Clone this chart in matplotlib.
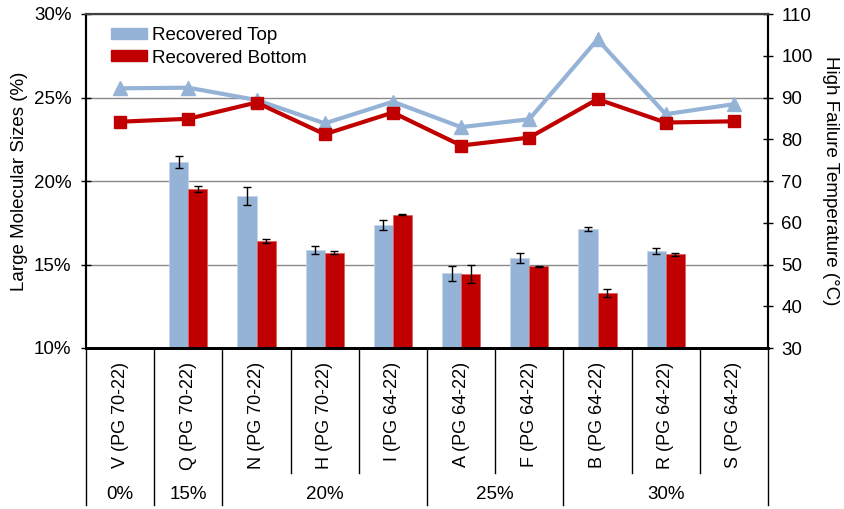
import numpy as np
import matplotlib
matplotlib.use('Agg')
import matplotlib.pyplot as plt
from matplotlib.patches import Patch
from matplotlib.ticker import FuncFormatter

plt.rcParams['font.family'] = ['Liberation Sans', 'DejaVu Sans']
plt.rcParams['font.size'] = 13.5

# binders and RAP content groups
categories = ['V (PG 70-22)', 'Q (PG 70-22)', 'N (PG 70-22)', 'H (PG 70-22)', 'I (PG 64-22)',
              'A (PG 64-22)', 'F (PG 64-22)', 'B (PG 64-22)', 'R (PG 64-22)', 'S (PG 64-22)']
groups = ['0%', '15%', '20%', '25%', '30%']
group_sizes = [1, 1, 3, 2, 3]

# large molecular sizes (%) with error
top_lms = [np.nan, 21.12, 19.10, 15.87, 17.38, 14.47, 15.37, 17.11, 15.81, np.nan]
top_err = [np.nan, 0.35, 0.52, 0.22, 0.29, 0.44, 0.30, 0.12, 0.19, np.nan]
bot_lms = [np.nan, 19.50, 16.41, 15.71, 17.98, 14.43, 14.91, 13.29, 15.61, np.nan]
bot_err = [np.nan, 0.18, 0.13, 0.10, 0.03, 0.55, 0.03, 0.22, 0.08, np.nan]

# high failure temperature (C)
top_hft = [92.2, 92.35, 89.4, 83.8, 89.0, 82.9, 84.8, 103.9, 86.0, 88.4]
bot_hft = [84.2, 84.9, 88.8, 81.2, 86.4, 78.5, 80.4, 89.6, 84.0, 84.3]

blue = '#95B3D7'
red = '#C00000'

W, H = 845, 509
fig = plt.figure(figsize=(W / 100, H / 100), dpi=100)
left, right, top, bottom = 86, 768, 14, 348
ax = fig.add_axes([left / W, 1 - bottom / H, (right - left) / W, (bottom - top) / H])

x = np.arange(len(categories))
bw = 0.28
tl = np.array(top_lms); te = np.array(top_err)
bl = np.array(bot_lms); be = np.array(bot_err)
m1 = ~np.isnan(tl)
m2 = ~np.isnan(bl)
ekw = dict(ecolor='black', elinewidth=1, capsize=3, capthick=1)
ax.bar(x[m1] - bw / 2, tl[m1], bw, color=blue, edgecolor='#c5d6ea', linewidth=0.6,
       yerr=te[m1], error_kw=ekw)
ax.bar(x[m2] + bw / 2, bl[m2], bw, color=red, edgecolor='#e06060', linewidth=0.6,
       yerr=be[m2], error_kw=ekw)

ax.set_xlim(-0.5, len(categories) - 0.5)
ax.set_ylim(10, 30)
ax.set_yticks([10, 15, 20, 25, 30])
ax.yaxis.set_major_formatter(FuncFormatter(lambda v, p: '%d%%' % v))
ax.grid(axis='y', color='#8a8a8a', linewidth=1)
ax.set_axisbelow(True)
ax.set_xticks([])
ax.tick_params(axis='y', direction='inout', length=7, width=1, pad=7)
ax.set_ylabel('Large Molecular Sizes (%)', labelpad=4)

ax2 = ax.twinx()
ax2.plot(x, top_hft, color=blue, lw=3, marker='^', markersize=10, zorder=3)
ax2.plot(x, bot_hft, color=red, lw=3, marker='s', markersize=9, zorder=4)
ax2.set_ylim(30, 110)
ax2.set_yticks(range(30, 111, 10))
ax2.tick_params(axis='y', direction='inout', length=7, width=1, pad=6)
ax2.set_ylabel('High Failure Temperature (\u00b0C)', rotation=270, labelpad=19)

for a in (ax, ax2):
    a.spines['top'].set_color('#404040')
    a.spines['top'].set_linewidth(1.5)
    a.spines['left'].set_linewidth(1.5)
    a.spines['right'].set_linewidth(1.5)
    a.spines['bottom'].set_linewidth(2)

# category table below the axis
trans = ax.get_xaxis_transform()
group_edges = np.cumsum([0] + group_sizes)
for b in range(len(categories) + 1):
    y_end = -0.47 if b in group_edges else -0.374
    ax.plot([b - 0.5, b - 0.5], [0, y_end], color='black', lw=1, transform=trans, clip_on=False)
for i, c in enumerate(categories):
    ax.text(i, -0.042, c, rotation=90, ha='center', va='top', fontsize=13, transform=trans)
for g, s, e in zip(groups, group_edges[:-1], group_edges[1:]):
    ax.text((s + e - 1) / 2, -0.44, g, ha='center', va='center', transform=trans)

handles = [Patch(color=blue), Patch(color=red)]
ax2.legend(handles, ['Recovered Top', 'Recovered Bottom'], loc='upper left',
           bbox_to_anchor=(0.037, 0.96), frameon=False, borderpad=0, borderaxespad=0,
           handlelength=1.92, handleheight=0.53, handletextpad=0.27, labelspacing=0.28)

fig.savefig('out.png', dpi=100)
